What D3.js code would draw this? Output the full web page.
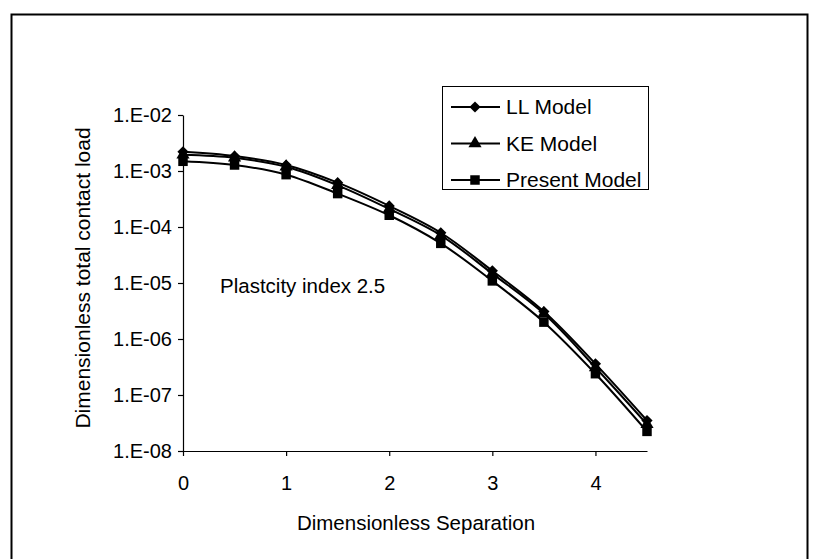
<!DOCTYPE html>
<html>
<head>
<meta charset="utf-8">
<script src="https://cdn.jsdelivr.net/npm/d3@7"></script>
<style>
  body { margin: 0; background: #fff; }
  text { font-family: "Liberation Sans", Arial, sans-serif; fill: #000; }
</style>
</head>
<body>
<script>
// chart data
var separation = [0, 0.5, 1, 1.5, 2, 2.5, 3, 3.5, 4, 4.5];
var llModel = [2.2e-3, 1.85e-3, 1.28e-3, 6.2e-4, 2.38e-4, 7.9e-5, 1.65e-5, 3.1e-6, 3.6e-7, 3.5e-8];
var keModel = [1.95e-3, 1.72e-3, 1.19e-3, 5.55e-4, 2.1e-4, 7.1e-5, 1.47e-5, 2.84e-6, 3.1e-7, 3.0e-8];
var presentModel = [1.49e-3, 1.28e-3, 8.6e-4, 3.95e-4, 1.62e-4, 5.1e-5, 1.09e-5, 2.0e-6, 2.4e-7, 2.24e-8];
var seriesNames = ["LL Model", "KE Model", "Present Model"];
var yTicks = [1e-2, 1e-3, 1e-4, 1e-5, 1e-6, 1e-7, 1e-8];
var xTicks = [0, 1, 2, 3, 4];

var w = 817, h = 559;

var svg = d3.select("body").append("svg")
    .attr("width", w)
    .attr("height", h);

// outer chart border (bottom edge falls outside the picture)
svg.append("rect")
    .attr("x", 11.5).attr("y", 14.5)
    .attr("width", 796).attr("height", 560)
    .attr("fill", "none")
    .attr("stroke", "#000")
    .attr("stroke-width", 2);

var x = d3.scaleLinear().domain([0, 4.5]).range([183, 647]);
var y = d3.scaleLog().domain([1e-8, 1e-2]).range([451, 115]);

// y axis
var yAxis = d3.axisLeft(y)
    .tickValues(yTicks)
    .tickSize(5)
    .tickSizeOuter(0)
    .tickFormat(function(d) {
        var e = Math.round(Math.log10(d));
        return "1.E" + (e < 0 ? "-" : "+") + String(Math.abs(e)).padStart(2, "0");
    });

var gy = svg.append("g")
    .attr("transform", "translate(" + x(0) + ",0)")
    .call(yAxis);
gy.selectAll("text").attr("font-size", 20).attr("dx", "-3");

// x axis
var xAxis = d3.axisBottom(x)
    .tickValues(xTicks)
    .tickSize(5)
    .tickSizeOuter(0)
    .tickFormat(d3.format("d"));

var gx = svg.append("g")
    .attr("transform", "translate(0," + y(1e-8) + ")")
    .call(xAxis);
gx.selectAll("text").attr("font-size", 20).attr("y", 39).attr("dy", null);

svg.selectAll(".domain, .tick line").attr("stroke", "#000").attr("stroke-width", 1.2);
svg.selectAll(".tick text").attr("font-family", "Liberation Sans, Arial, sans-serif");

// axis titles
svg.append("text")
    .attr("x", 416).attr("y", 530)
    .attr("text-anchor", "middle")
    .attr("font-size", 20.5)
    .text("Dimensionless Separation");

svg.append("text")
    .attr("transform", "translate(90,278) rotate(-90)")
    .attr("text-anchor", "middle")
    .attr("font-size", 21)
    .text("Dimensionless  total contact load");

// annotation
svg.append("text")
    .attr("x", 220).attr("y", 293)
    .attr("font-size", 20.5)
    .text("Plastcity index 2.5");

// series lines and markers
var series = [llModel, keModel, presentModel];
var symbols = [d3.symbolDiamond2, d3.symbolTriangle, d3.symbolSquare];
var symSizes = [80, 75, 90];

var line = d3.line()
    .x(function(d, i) { return x(separation[i]); })
    .y(function(d) { return y(d); })
    .curve(d3.curveCatmullRom.alpha(0.5));

series.forEach(function(s, k) {
    svg.append("path")
        .datum(s)
        .attr("d", line)
        .attr("fill", "none")
        .attr("stroke", "#000")
        .attr("stroke-width", 2);
});

series.forEach(function(s, k) {
    svg.selectAll(".m" + k)
        .data(s)
        .enter()
        .append("path")
        .attr("class", "m" + k)
        .attr("d", d3.symbol().type(symbols[k]).size(symSizes[k]))
        .attr("transform", function(d, i) {
            return "translate(" + x(separation[i]) + "," + y(d) + ")";
        })
        .attr("fill", "#000");
});

// legend
var legend = svg.append("g");
legend.append("rect")
    .attr("x", 442.5).attr("y", 86.5)
    .attr("width", 206).attr("height", 103)
    .attr("fill", "#fff")
    .attr("stroke", "#000");

seriesNames.forEach(function(name, k) {
    var ly = 107 + k * 36.5;
    legend.append("line")
        .attr("x1", 451).attr("x2", 500)
        .attr("y1", ly).attr("y2", ly)
        .attr("stroke", "#000")
        .attr("stroke-width", 2);
    legend.append("path")
        .attr("d", d3.symbol().type(symbols[k]).size(symSizes[k]))
        .attr("transform", "translate(475," + ly + ")")
        .attr("fill", "#000");
    legend.append("text")
        .attr("x", 506).attr("y", ly + 7)
        .attr("font-size", 21)
        .text(name);
});
</script>
</body>
</html>
